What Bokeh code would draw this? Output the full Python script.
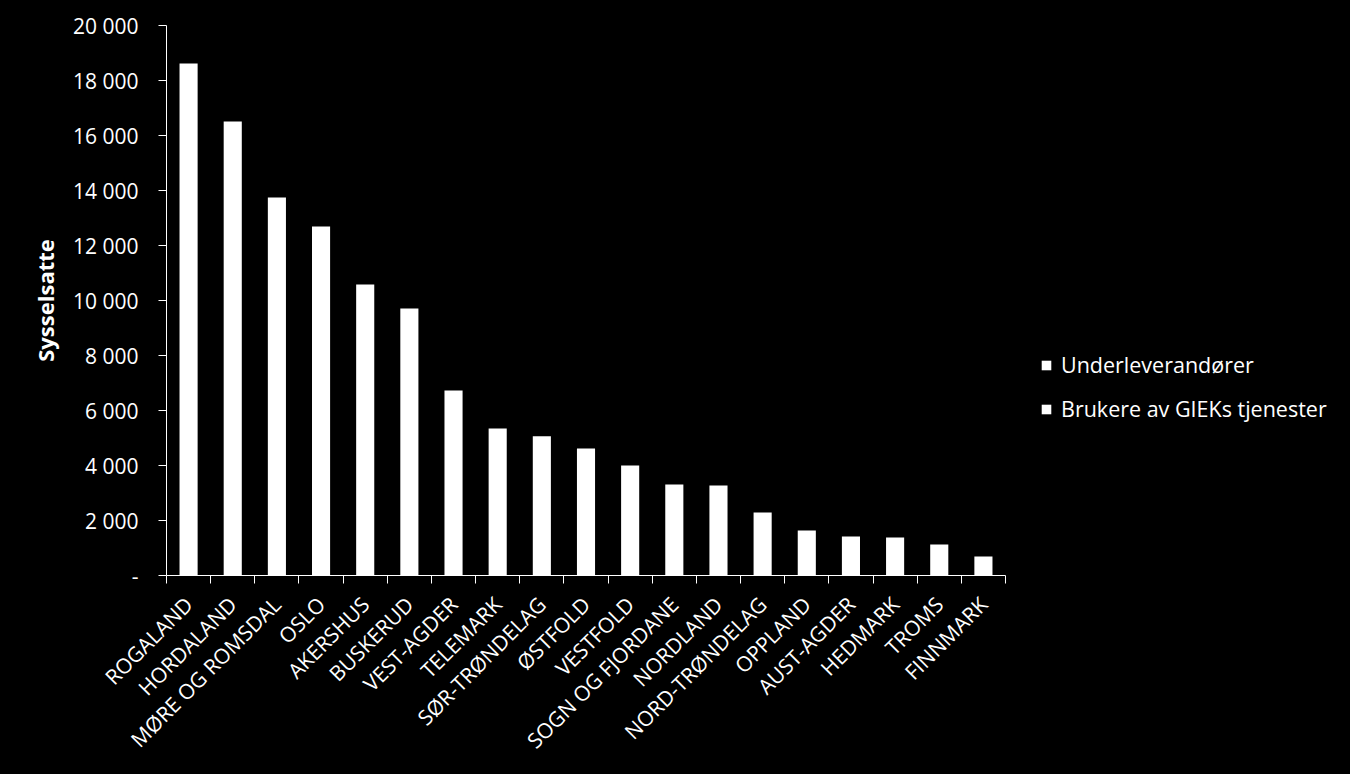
from bokeh.plotting import figure
from bokeh.models import (ColumnDataSource, FixedTicker, CustomJSTickFormatter, Range1d,
                          Legend, LegendItem)
from bokeh.embed import file_html
from bokeh.resources import INLINE
import math

regions = ["ROGALAND", "HORDALAND", "MØRE OG ROMSDAL", "OSLO", "AKERSHUS", "BUSKERUD",
           "VEST-AGDER", "TELEMARK", "SØR-TRØNDELAG", "ØSTFOLD", "VESTFOLD",
           "SOGN OG FJORDANE", "NORDLAND", "NORD-TRØNDELAG", "OPPLAND", "AUST-AGDER",
           "HEDMARK", "TROMS", "FINNMARK"]
underleverandorer = [18620, 16510, 13750, 12690, 10580, 9710, 6730, 5350, 5060, 4620,
                     4000, 3310, 3270, 2290, 1640, 1420, 1380, 1130, 690]
brukere = [0] * len(regions)
series_names = ["Underleverandører", "Brukere av GIEKs tjenester"]
y_ticks = [0, 2000, 4000, 6000, 8000, 10000, 12000, 14000, 16000, 18000, 20000]
y_tick_labels = ["-", "2 000", "4 000", "6 000", "8 000", "10 000", "12 000", "14 000",
                 "16 000", "18 000", "20 000"]

FONT = "Open Sans"
n = len(regions)
xs = [i + 0.5 for i in range(n)]
src = ColumnDataSource(dict(x=xs, u=underleverandorer, b=brukere))

p = figure(frame_width=839, frame_height=550, width=1350, height=774,
           x_range=Range1d(0, n), y_range=Range1d(0, 20000),
           output_backend="svg", toolbar_location=None,
           min_border_left=166, min_border_top=25, min_border_right=345, min_border_bottom=199,
           background_fill_color="black", border_fill_color="black")
p.outline_line_color = None
p.xgrid.visible = False
p.ygrid.visible = False

r1, r2 = p.vbar_stack(["u", "b"], x="x", width=0.41, source=src,
                      color=["white", "white"], line_color=None)

# y axis
p.yaxis.ticker = FixedTicker(ticks=y_ticks, minor_ticks=[])
p.yaxis.major_label_overrides = {t: l for t, l in zip(y_ticks, y_tick_labels)}
p.yaxis.axis_line_color = "white"
p.yaxis.major_tick_line_color = "white"
p.yaxis.major_tick_in = 0
p.yaxis.major_tick_out = 8
p.yaxis.minor_tick_line_color = None
p.yaxis.major_label_text_color = "white"
p.yaxis.major_label_text_font = FONT
p.yaxis.major_label_text_font_size = "21px"
p.yaxis.major_label_standoff = 20
p.yaxis.axis_label = "Sysselsatte"
p.yaxis.axis_label_text_color = "white"
p.yaxis.axis_label_text_font = FONT
p.yaxis.axis_label_text_font_style = "bold"
p.yaxis.axis_label_text_font_size = "22px"
p.yaxis.axis_label_standoff = 10

# x axis
p.xaxis.ticker = FixedTicker(ticks=xs, minor_ticks=list(range(n + 1)))
p.xaxis.formatter = CustomJSTickFormatter(args=dict(labels=regions),
                                          code="return labels[Math.floor(tick)] || '';")
p.xaxis.axis_line_color = "white"
p.xaxis.major_tick_line_color = None
p.xaxis.minor_tick_line_color = "white"
p.xaxis.minor_tick_in = 0
p.xaxis.minor_tick_out = 8
p.xaxis.major_label_orientation = math.pi / 4
p.xaxis.major_label_text_color = "white"
p.xaxis.major_label_text_font = FONT
p.xaxis.major_label_text_font_size = "21px"
p.xaxis.major_label_standoff = 17

legend = Legend(items=[LegendItem(label=series_names[0], renderers=[r1]),
                       LegendItem(label=series_names[1], renderers=[r2])],
                location=(35, 152), orientation="vertical",
                background_fill_alpha=0, border_line_color=None,
                label_text_color="white", label_text_font=FONT,
                label_text_font_size="21.5px", glyph_width=12, glyph_height=12,
                label_standoff=9, spacing=15, padding=0, margin=0)
p.add_layout(legend, "right")

html = file_html(p, INLINE)
html = html.replace("<head>", "<head><style>html,body{margin:0;padding:0;background:#000;}</style>", 1)
open("out.html", "w").write(html)
